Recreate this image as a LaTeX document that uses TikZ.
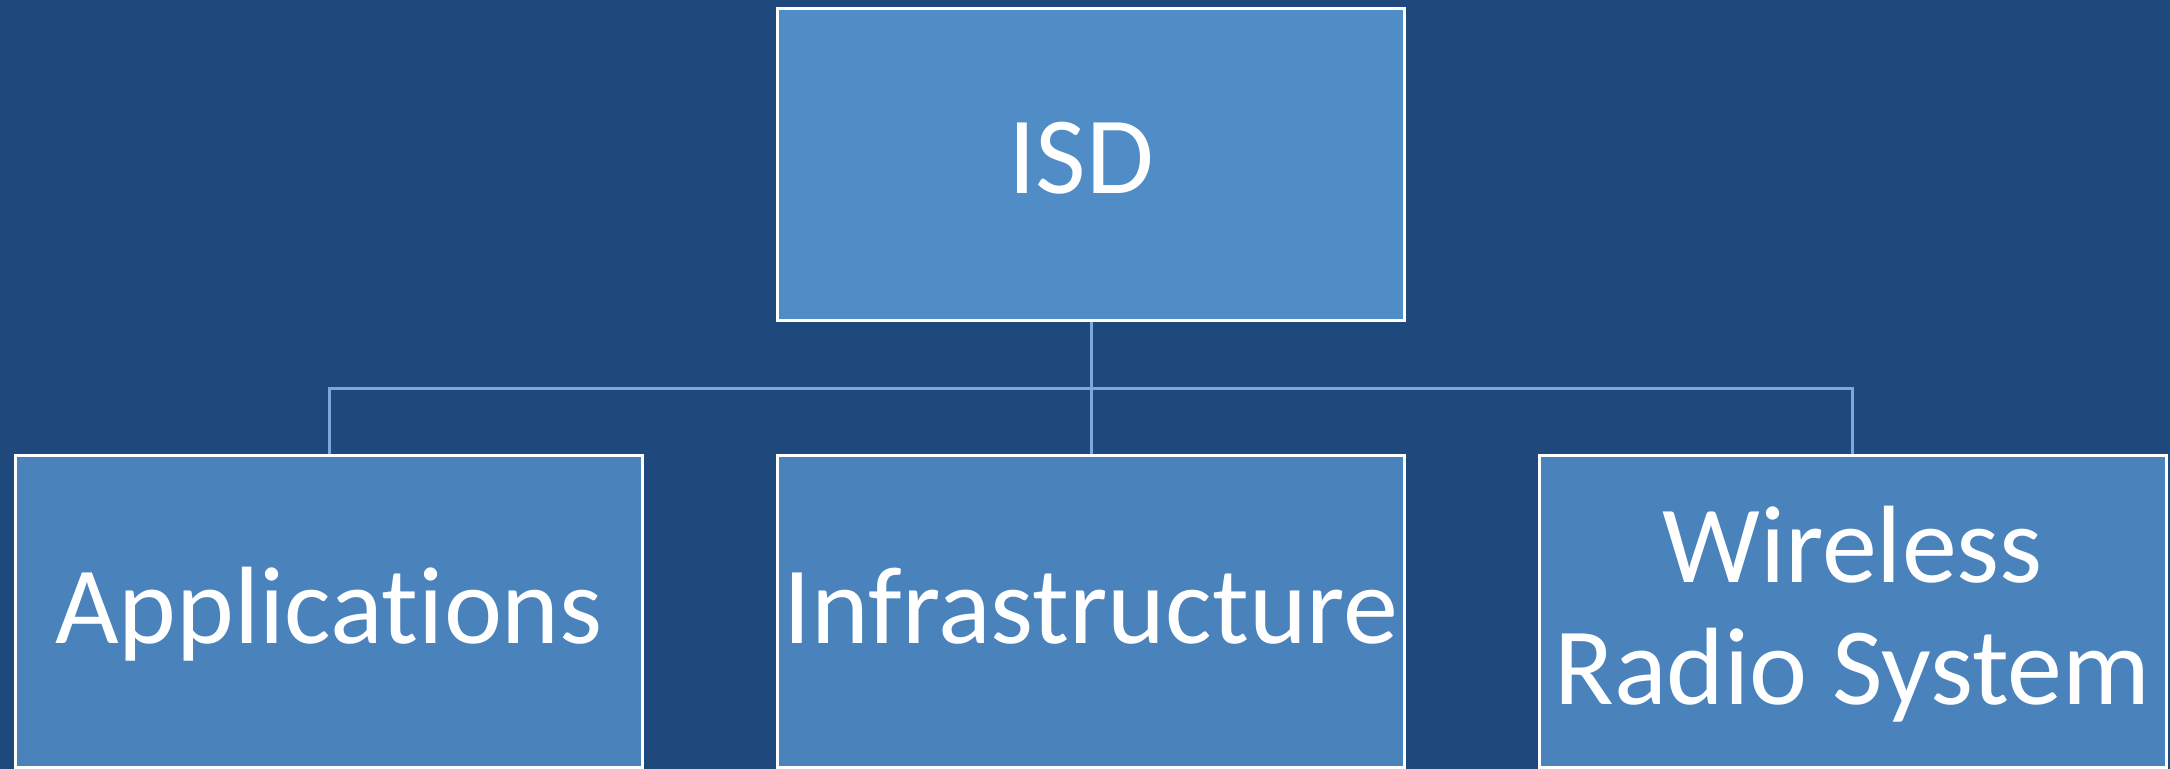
\documentclass[tikz,border=0pt]{standalone}
\usepackage{fontspec}
\setmainfont{Carlito}[Ligatures=NoCommon]
\usetikzlibrary{calc}
\definecolor{bgblue}{RGB}{31,73,125}
\definecolor{topfill}{RGB}{80,140,198}
\definecolor{botfill}{RGB}{74,131,188}
\definecolor{linkblue}{RGB}{125,168,219}
\tikzset{
  orgbox/.style={draw=white, line width=1.5pt, rectangle, inner sep=0pt,
    minimum width=313.5pt, minimum height=156pt},
  topbox/.style={orgbox, fill=topfill},
  botbox/.style={orgbox, fill=botfill},
  boxtext/.style={text=white, inner sep=0pt, align=center,
    font=\fontsize{55}{61.5}\selectfont},
  link/.style={draw=linkblue, line width=1.5pt}
}
\begin{document}
\begin{tikzpicture}[x=0.5pt,y=-0.5pt]
\fill[bgblue] (0,0) rectangle (2170,769);
\useasboundingbox (0,0) rectangle (2170,769);
\clip (0,0) rectangle (2170,769);
\node[topbox] (isd) at (1091,164.5) {};
\node[botbox] (app) at (329,611.5) {};
\node[botbox] (infra) at (1091,611.5) {};
\node[botbox] (wrs) at (1852.5,611.5) {};
\coordinate (hub) at (1091,389);
\draw[link] (isd.south) -- (infra.north);
\draw[link] (hub) -| (app.north);
\draw[link] (hub) -| (wrs.north);
\node[boxtext, anchor=base] (isdt) at ($(isd.center)+(-10,29.5)$) {ISD};
\node[boxtext, anchor=base] (appt) at ($(app.center)+(0,32.5)$) {Applications};
\node[boxtext, anchor=base] (infrat) at ($(infra.center)+(0,32.5)$) {Infrastructure};
\node[boxtext, anchor=base] (wrst) at ($(wrs.center)+(0,93.5)$) {Wireless\\Radio System};
\end{tikzpicture}
\end{document}
